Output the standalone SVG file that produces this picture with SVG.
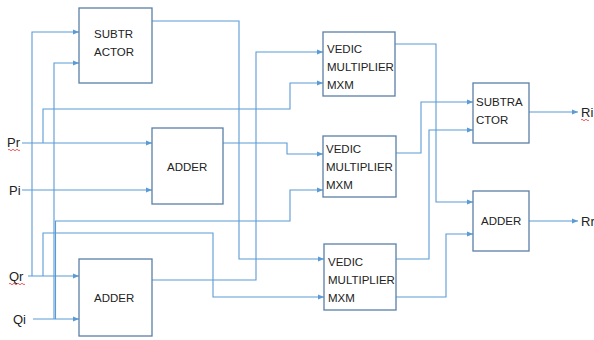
<svg xmlns="http://www.w3.org/2000/svg" width="594" height="340" viewBox="0 0 594 340">
<style>
.box{fill:#fff;stroke:#5b7fa6;stroke-width:1.3}
.t{font-family:"Liberation Sans",Arial,sans-serif;font-size:11.5px;fill:#222}
.lbl{font-family:"Liberation Sans",Arial,sans-serif;font-size:13px;fill:#222}
.w{fill:none;stroke:#5b9bd5;stroke-width:1.1}
.a{marker-end:url(#ah)}
.sq{fill:none;stroke:#e33;stroke-width:0.8}
</style>
<defs>
<marker id="ah" viewBox="0 0 6 6" refX="6" refY="3" markerWidth="6" markerHeight="6" markerUnits="userSpaceOnUse" orient="auto">
<path d="M0,0.5 L6,3 L0,5.5 Z" fill="#5b9bd5"/>
</marker>
</defs>
<rect width="594" height="340" fill="#fff"/>
<g id="connectors">
<path class="w a" d="M22,143 H152"/>
<path class="w a" d="M22,190 H152"/>
<path class="w a" d="M28,276 H79"/>
<path class="w a" d="M33,319 H79"/>
<path class="w a" d="M32,276 V32 H79"/>
<path class="w a" d="M54,319 V63 H79"/>
<path class="w a" d="M43,143 V109 H290 V83 H323"/>
<path class="w a" d="M55.5,319 V221 H290 V190 H323"/>
<path class="w a" d="M43,276 V233 H213 V297 H324"/>
<path class="w a" d="M152,21 H239 V259 H324"/>
<path class="w a" d="M152,280 H256 V52 H323"/>
<path class="w a" d="M223,143 H287 V154 H323"/>
<path class="w a" d="M395,44 H436 V202 H473"/>
<path class="w a" d="M396,153 H421 V102 H473"/>
<path class="w a" d="M396,259 H429 V130 H473"/>
<path class="w a" d="M396,297 H446 V234 H473"/>
<path class="w a" d="M529,112 H578"/>
<path class="w a" d="M529,221 H578"/>
</g>
<g id="subtractor1"><rect class="box" x="79" y="8" width="73" height="75"/><text class="t" x="94" y="38">SUBTR</text><text class="t" x="94" y="56">ACTOR</text></g>
<g id="adder1"><rect class="box" x="152" y="128" width="71" height="76"/><text class="t" x="167" y="171">ADDER</text></g>
<g id="adder2"><rect class="box" x="79" y="259" width="73" height="77"/><text class="t" x="94" y="302">ADDER</text></g>
<g id="vedic1"><rect class="box" x="323" y="32" width="72" height="64"/><text class="t" x="327" y="53">VEDIC</text><text class="t" x="327" y="71">MULTIPLIER</text><text class="t" x="327" y="89">MXM</text></g>
<g id="vedic2"><rect class="box" x="323" y="136" width="73" height="61"/><text class="t" x="326" y="153">VEDIC</text><text class="t" x="326" y="171">MULTIPLIER</text><text class="t" x="326" y="189">MXM</text></g>
<g id="vedic3"><rect class="box" x="324" y="244" width="72" height="66"/><text class="t" x="328" y="266">VEDIC</text><text class="t" x="328" y="284">MULTIPLIER</text><text class="t" x="328" y="302">MXM</text></g>
<g id="subtractor2"><rect class="box" x="473" y="83" width="56" height="60"/><text class="t" x="476" y="106">SUBTRA</text><text class="t" x="476" y="124">CTOR</text></g>
<g id="adder3"><rect class="box" x="473" y="191" width="56" height="60"/><text class="t" x="481" y="225">ADDER</text></g>
<g id="inputs">
<text class="lbl" x="7" y="147">Pr</text>
<text class="lbl" x="9" y="195">Pi</text>
<text class="lbl" x="9" y="281">Qr</text>
<text class="lbl" x="13" y="324">Qi</text>
<text class="lbl" x="581" y="117">Ri</text>
<text class="lbl" x="581" y="226">Rr</text>
<path class="sq" d="M8,150 q1,-1.5 2,0 t2,0 t2,0 t2,0 t2,0 t2,0"/>
<path class="sq" d="M9,284 q1,-1.5 2,0 t2,0 t2,0 t2,0 t2,0 t2,0 t2,0 t2,0"/>
<path class="sq" d="M581,120 q1,-1.5 2,0 t2,0 t2,0 t2,0"/>
</g>
</svg>
